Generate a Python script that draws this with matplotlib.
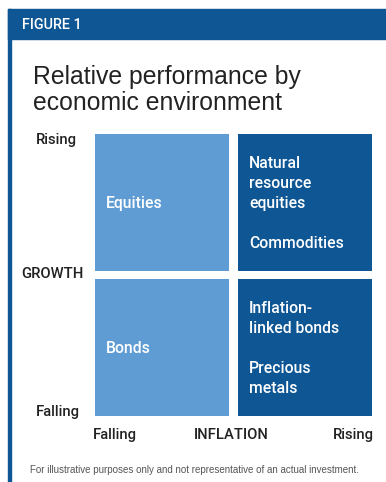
import matplotlib
matplotlib.use("Agg")
import matplotlib.pyplot as plt
from matplotlib.patches import Rectangle

# ---- data ----
inflation_levels = ["Falling", "Rising"]
growth_levels = ["Falling", "Rising"]
quad_inflation = [0, 1, 0, 1]          # index into inflation_levels
quad_growth = [1, 1, 0, 0]             # index into growth_levels
quad_labels = ["Equities",
               "Natural\nresource\nequities\n\nCommodities",
               "Bonds",
               "Inflation-\nlinked bonds\n\nPrecious\nmetals"]
quad_colors = ["#5f9cd3", "#0e5694", "#5f9cd3", "#0e5694"]
header_text = "FIGURE 1"
title_text = "Relative performance by\neconomic environment"
x_axis_name = "INFLATION"
y_axis_name = "GROWTH"
footnote = "For illustrative purposes only and not representative of an actual investment."

W, H = 386, 482
fig = plt.figure(figsize=(W / 100, H / 100), dpi=100)
fig.patch.set_facecolor("white")
plt.rcParams["font.family"] = ["Liberation Sans", "DejaVu Sans"]
MED = ["Roboto", "Liberation Sans", "DejaVu Sans"]

def fx(x):
    return x / W

def fy(y):
    return 1 - y / H

BLUE = "#0e5694"
# header bar and left rule
fig.patches.append(Rectangle((fx(8), fy(39)), fx(386) - fx(8), fy(9) - fy(39),
                             transform=fig.transFigure, color=BLUE, zorder=0))
fig.patches.append(Rectangle((fx(8), 0), fx(10.5) - fx(8), fy(9),
                             transform=fig.transFigure, color=BLUE, zorder=0))
fig.text(fx(22), fy(25), header_text, color="white", fontsize=10.4, fontweight="medium",
         family=MED, ha="left", va="center")

fig.text(fx(33), fy(90), title_text, color="#222222", fontsize=17.8,
         ha="left", va="center", linespacing=1.12)

# quadrant axes
ax_left, ax_right, ax_top, ax_bottom = 95, 372, 134, 416
ax = fig.add_axes([fx(ax_left), fy(ax_bottom), fx(ax_right) - fx(ax_left), fy(ax_top) - fy(ax_bottom)])
bw = 134 / 143
bh = 137 / 145
ax.bar(quad_inflation, [bh] * 4, width=bw,
       bottom=[g - bh / 2 for g in quad_growth], color=quad_colors, linewidth=0)
ax.set_xlim(-bw / 2, 1 + bw / 2)
ax.set_ylim(-bh / 2, 1 + bh / 2)
ax.axis("off")

pad = 11 / 143
for xi, yi, lab in zip(quad_inflation, quad_growth, quad_labels):
    ax.text(xi - bw / 2 + pad, yi - 0.006, lab, color="white", fontsize=11.3, fontweight="medium",
            family=MED, ha="left", va="center", linespacing=1.43)

lab_color = "#222222"
kw = dict(color=lab_color, fontsize=10.6, fontweight="medium", family=MED, va="center")
fig.text(fx(56.5), fy(140), growth_levels[1], ha="center", **kw)
fig.text(fx(52.5), fy(274), y_axis_name, ha="center", **kw)
fig.text(fx(57.5), fy(412), growth_levels[0], ha="center", **kw)

fig.text(fx(93), fy(435), inflation_levels[0], ha="left", **kw)
fig.text(fx(231), fy(435), x_axis_name, ha="center", **kw)
fig.text(fx(374), fy(435), inflation_levels[1], ha="right", **kw)

fig.text(fx(30), fy(470), footnote, color="#555555", fontsize=7.0,
         ha="left", va="center")

fig.savefig("out.png", dpi=100, facecolor="white")
